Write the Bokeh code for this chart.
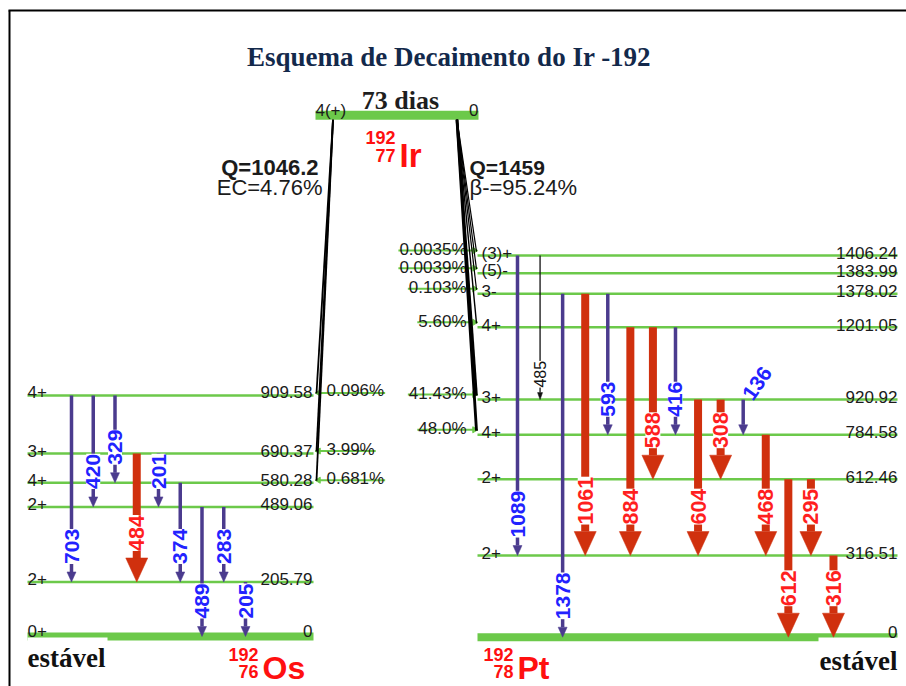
import math
from bokeh.plotting import figure
from bokeh.models import Range1d, ColumnDataSource
from bokeh.core.properties import value
from bokeh.embed import file_html
from bokeh.resources import INLINE

# ---------------- data ----------------
TITLE = "Esquema de Decaimento do Ir -192"
HALF_LIFE = "73 dias"
PARENT_SPIN = "4(+)"
PARENT_ENERGY = "0"
EC_Q = "Q=1046.2"
EC_BRANCH = "EC=4.76%"
BETA_Q = "Q=1459"
BETA_BRANCH = "β-=95.24%"
STABLE = "estável"

os_level_energy = [0, 205.79, 489.06, 580.28, 690.37, 909.58]
os_level_label = ["0", "205.79", "489.06", "580.28", "690.37", "909.58"]
os_level_spin = ["0+", "2+", "2+", "4+", "3+", "4+"]
os_feed_level = [909.58, 690.37, 580.28]
os_feed_pct = ["0.096%", "3.99%", "0.681%"]

os_gamma = ["703", "420", "329", "484", "201", "374", "489", "283", "205"]
os_gamma_from = [909.58, 909.58, 909.58, 690.37, 690.37, 580.28, 489.06, 489.06, 205.79]
os_gamma_to = [205.79, 489.06, 580.28, 205.79, 489.06, 205.79, 0, 205.79, 0]
os_gamma_kind = ["weak", "weak", "weak", "strong", "weak", "weak", "weak", "weak", "weak"]

pt_level_energy = [0, 316.51, 612.46, 784.58, 920.92, 1201.05, 1378.02, 1383.99, 1406.24]
pt_level_label = ["0", "316.51", "612.46", "784.58", "920.92", "1201.05", "1378.02", "1383.99", "1406.24"]
pt_level_spin = ["", "2+", "2+", "4+", "3+", "4+", "3-", "(5)-", "(3)+"]
pt_feed_level = [1406.24, 1383.99, 1378.02, 1201.05, 920.92, 784.58]
pt_feed_pct = ["0.0035%", "0.0039%", "0.103%", "5.60%", "41.43%", "48.0%"]
pt_feed_value = [0.0035, 0.0039, 0.103, 5.60, 41.43, 48.0]

pt_gamma = ["1089", "485", "1378", "1061", "593", "884", "588", "416",
            "604", "308", "136", "468", "612", "295", "316"]
pt_gamma_from = [1406.24, 1406.24, 1378.02, 1378.02, 1378.02, 1201.05, 1201.05, 1201.05,
                 920.92, 920.92, 920.92, 784.58, 612.46, 612.46, 316.51]
pt_gamma_to = [316.51, 920.92, 0, 316.51, 784.58, 316.51, 612.46, 784.58,
               316.51, 612.46, 784.58, 316.51, 0, 316.51, 0]
pt_gamma_kind = ["weak", "minor", "weak", "strong", "weak", "strong", "strong", "weak",
                 "strong", "strong", "weak", "strong", "strong", "strong", "strong"]

# ---------------- layout ----------------
W, H = 906, 686
OS_ZERO_PX, OS_PX_PER_KEV = 636.0, 0.265
PT_ZERO_PX, PT_PX_PER_KEV = 636.7, 0.258
PT_DISPLAY_SHIFT = {1378.02: -47.0, 1383.99: 27.0, 1406.24: 73.0}
PARENT_PX = 114.7
OS_X0, OS_X1 = 27, 313
PT_X0, PT_X1 = 477, 897
IR_X0, IR_X1 = 315, 478
OS_GX0, OS_GDX = 71, 21.75
PT_GX0, PT_GDX = 517, 22.57
ANGLED = {"136": 55}

SANS = "Liberation Sans"
SERIF = "Liberation Serif"
GREEN = "#6cc94a"
PURPLE = "#4b3b8e"
RED = "#d0300e"
RED_TXT = "#ff1f1f"
BLUE_TXT = "#2222ff"
NAVY = "#13294b"
INK = "#1b1b1b"

STYLES = {
    "weak": dict(color=PURPLE, width=3.5, hw=9, hh=10, tcol=BLUE_TXT, size="21px", style="bold", gap=18),
    "strong": dict(color=RED, width=8, hw=22, hh=24, tcol=RED_TXT, size="21.5px", style="bold", gap=31),
    "minor": dict(color="#111111", width=1.3, hw=5, hh=7, tcol="#111111", size="16px", style="normal", gap=12),
}


def os_y(py):
    return (OS_ZERO_PX - py) / OS_PX_PER_KEV


def pt_y(py):
    return (PT_ZERO_PX - py) / PT_PX_PER_KEV


def os_d(px):
    return px / OS_PX_PER_KEV


def pt_d(px):
    return px / PT_PX_PER_KEV


def os_disp(e):
    return e


def pt_disp(e):
    return e + PT_DISPLAY_SHIFT.get(e, 0.0)


def text_w(s, size):
    wtab = {".": 0.278, "%": 0.889}
    return sum(wtab.get(c, 0.556) for c in s) * size


p = figure(width=W, height=H, x_range=Range1d(0, W), y_range=Range1d(os_y(H), os_y(0)),
           output_backend="svg", toolbar_location=None, x_axis_type=None, y_axis_type=None,
           min_border=0, outline_line_color=None, background_fill_color="white")
p.extra_y_ranges = {"pt": Range1d(pt_y(H), pt_y(0))}
p.grid.visible = False


def T(xs, ys, texts, size, color=INK, align="left", baseline="alphabetic", style="normal",
      font=SANS, angle=0.0, rng=None, bg=None):
    if not isinstance(xs, (list, tuple)):
        xs, ys, texts = [xs], [ys], [texts]
    src = ColumnDataSource(dict(x=list(xs), y=list(ys), t=list(texts)))
    kw = dict(x="x", y="y", text="t", source=src, text_font=value(font), text_font_size=size,
              text_color=color, text_align=align, text_baseline=baseline,
              text_font_style=style, angle=angle)
    if rng:
        kw["y_range_name"] = rng
    if bg:
        kw["background_fill_color"] = bg
    p.text(**kw)


# frame
p.segment(x0=[9, 8], y0=[os_y(10), os_y(10)], x1=[9, W], y1=[os_y(H), os_y(10)],
          line_color="black", line_width=2)

# ---- levels ----
os_up = [e for e in os_level_energy if e > 0]
p.segment(x0=[OS_X0] * len(os_up), x1=[OS_X1] * len(os_up), y0=os_up, y1=os_up,
          line_color=GREEN, line_width=2.5)
p.segment(x0=[OS_X0], x1=[OS_X1], y0=[0], y1=[0], line_color=GREEN, line_width=8)
pt_up = [pt_disp(e) for e in pt_level_energy if e > 0]
p.segment(x0=[PT_X0] * len(pt_up), x1=[PT_X1] * len(pt_up), y0=pt_up, y1=pt_up,
          line_color=GREEN, line_width=2.5, y_range_name="pt")
p.segment(x0=[PT_X0], x1=[PT_X1], y0=[0], y1=[0], line_color=GREEN, line_width=8, y_range_name="pt")
p.segment(x0=[IR_X0], x1=[IR_X1], y0=[os_y(PARENT_PX)], y1=[os_y(PARENT_PX)],
          line_color=GREEN, line_width=9)

# cover under "estável"
p.quad(left=[OS_X0, 818], right=[107, PT_X1 + 1], top=[os_y(637), os_y(637)],
       bottom=[os_y(642), os_y(642)], fill_color="white", line_color=None)

# ---- feeding (percent) ----
os_fx = OS_X1 + 13
os_fy = [e + os_d(2.5) for e in os_feed_level]
p.segment(x0=[OS_X1 + 4] * 3, x1=[os_fx + text_w(s, 17) + 1 for s in os_feed_pct],
          y0=os_fy, y1=os_fy, line_color=GREEN, line_width=2)
p.scatter(x=[OS_X1 + 5] * 3, y=os_fy, marker="triangle", size=6, angle=math.pi / 2,
          fill_color=GREEN, line_color=GREEN)
T([os_fx] * 3, [e + os_d(4.5) for e in os_feed_level], os_feed_pct, "17px")

pt_fx = 466
pt_fy = [pt_disp(e) + pt_d(5) for e in pt_feed_level]
p.segment(x0=[pt_fx - text_w(s, 17) - 1 for s in pt_feed_pct], x1=[PT_X0 - 2] * 6,
          y0=pt_fy, y1=pt_fy, line_color=GREEN, line_width=2, y_range_name="pt")
p.scatter(x=[PT_X0 - 3] * 6, y=pt_fy, marker="triangle", size=6, angle=-math.pi / 2,
          fill_color=GREEN, line_color=GREEN, y_range_name="pt")
T([pt_fx] * 6, [pt_disp(e) + pt_d(6) for e in pt_feed_level], pt_feed_pct, "17px",
  align="right", rng="pt")

# EC / beta lines from the parent
p.segment(x0=[332.5] * 3, y0=[os_y(PARENT_PX + 4.5)] * 3, x1=[OS_X1 + 3] * 3,
          y1=[e + os_d(2) for e in os_feed_level], line_color="black", line_width=1.8)
p.segment(x0=[456.5] * 6, y0=[pt_y(PARENT_PX + 4.5)] * 6, x1=[PT_X0 - 1] * 6,
          y1=[pt_disp(e) + pt_d(4) for e in pt_feed_level], line_color="black",
          line_width=[1.2 + 0.035 * v for v in pt_feed_value], y_range_name="pt")


# ---- gamma transitions ----
def draw_gammas(labels, e_from, e_to, kinds, x0, dx, disp, d, rng):
    kw = {"y_range_name": rng} if rng else {}
    groups = []
    for kind, st in STYLES.items():
        idx = [i for i, k in enumerate(kinds) if k == kind]
        if idx:
            groups.append((st, idx))
    for st, idx in groups:
        xs = [x0 + dx * i for i in idx]
        top = [disp(e_from[i]) for i in idx]
        base = [disp(e_to[i]) + d(st["hh"]) for i in idx]
        p.segment(x0=xs, x1=xs, y0=top, y1=base, line_color=st["color"], line_width=st["width"], **kw)
    for st, idx in groups:
        straight = [i for i in idx if labels[i] not in ANGLED]
        T([x0 + dx * i for i in straight], [disp(e_to[i]) + d(st["gap"]) for i in straight],
          [labels[i] for i in straight], st["size"], color=st["tcol"], style=st["style"],
          baseline="middle", angle=math.pi / 2, rng=rng, bg="white")
        for i in idx:
            if labels[i] in ANGLED:
                T(x0 + dx * i + 4, disp(e_from[i]) + d(2), labels[i], st["size"], color=st["tcol"],
                  style=st["style"], baseline="middle", angle=math.radians(ANGLED[labels[i]]), rng=rng)
    for st, idx in groups:
        hx, hy = [], []
        for i in idx:
            x = x0 + dx * i
            tip = disp(e_to[i])
            b = tip + d(st["hh"])
            hx.append([x - st["hw"] / 2, x + st["hw"] / 2, x])
            hy.append([b, b, tip])
        p.patches(xs=hx, ys=hy, fill_color=st["color"], line_color=st["color"], line_width=0.5, **kw)


draw_gammas(os_gamma, os_gamma_from, os_gamma_to, os_gamma_kind, OS_GX0, OS_GDX, os_disp, os_d, None)
draw_gammas(pt_gamma, pt_gamma_from, pt_gamma_to, pt_gamma_kind, PT_GX0, PT_GDX, pt_disp, pt_d, "pt")

# ---- level labels ----
os_ly = [e + os_d(5.5 if e == 0 else 3) for e in os_level_energy]
T([OS_X0] * len(os_level_energy), os_ly, os_level_spin, "17px")
T([OS_X1 - 1] * len(os_level_energy), os_ly, os_level_label, "17px", align="right")
pt_ly = [pt_disp(e) + pt_d(5.5 if e == 0 else 2.5) for e in pt_level_energy]
T([PT_X0 + 4] * len(pt_level_energy), pt_ly, pt_level_spin, "17px", rng="pt")
T([PT_X1] * len(pt_level_energy), pt_ly, pt_level_label, "17px", align="right", rng="pt")

# ---- parent ----
T(IR_X0, os_y(109.5), PARENT_SPIN, "17px")
T(IR_X1, os_y(109.5), PARENT_ENERGY, "17px", align="right")
T(400, os_y(100), HALF_LIFE, "26px", color="#1e1e1e", align="center", style="bold", font=SERIF)
T(448.5, os_y(56), TITLE, "27px", color=NAVY, align="center", style="bold", font=SERIF)

T(318, os_y(167), EC_Q, "22px", color=INK, align="right", style="bold")
T(322, os_y(187), EC_BRANCH, "22px", color=INK, align="right")
T(469, os_y(167), BETA_Q, "21px", color=INK, style="bold")
T(469, os_y(187), BETA_BRANCH, "22px", color=INK)

# nuclide symbols
NUC_RED = "#ff1010"
T(395, os_y(137), "192", "18px", color=NUC_RED, align="right", style="bold")
T(395, os_y(155), "77", "18px", color=NUC_RED, align="right", style="bold")
T(399, os_y(155), "Ir", "33px", color=NUC_RED, style="bold")
T(258, os_y(654), "192", "18px", color=NUC_RED, align="right", style="bold")
T(258, os_y(671), "76", "18px", color=NUC_RED, align="right", style="bold")
T(262, os_y(667), "Os", "32px", color=NUC_RED, style="bold")
T(513, os_y(654), "192", "18px", color=NUC_RED, align="right", style="bold")
T(513, os_y(671), "78", "18px", color=NUC_RED, align="right", style="bold")
T(517, os_y(667), "Pt", "32px", color=NUC_RED, style="bold")

T(OS_X0, os_y(657), STABLE, "27px", color="#111111", style="bold", font=SERIF)
T(PT_X1, os_y(660), STABLE, "27px", color="#111111", align="right", style="bold", font=SERIF)

open("out.html", "w").write(file_html(p, INLINE))
